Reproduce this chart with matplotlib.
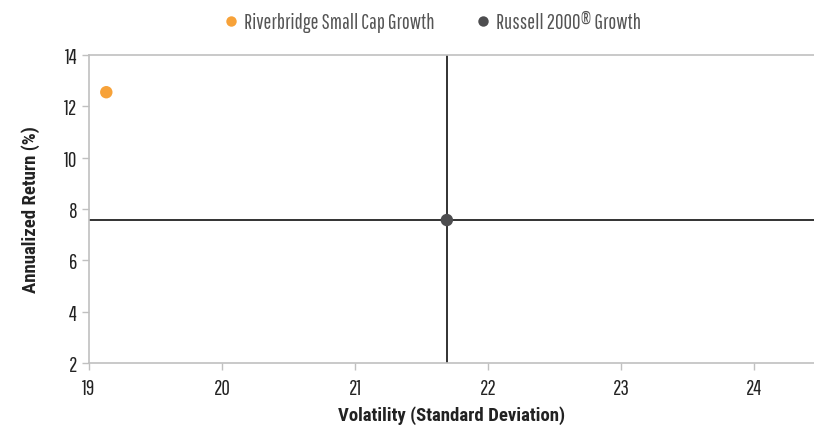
import matplotlib
matplotlib.use("Agg")
import matplotlib.pyplot as plt
from matplotlib.lines import Line2D

names = ["Riverbridge Small Cap Growth", "Russell 2000® Growth"]
volatility = [19.13, 21.69]
returns = [12.55, 7.57]
colors = ["#f7a239", "#4d4d4f"]
xticks = [19, 20, 21, 22, 23, 24]
yticks = [2, 4, 6, 8, 10, 12, 14]

plt.rcParams['font.family'] = ['Pathway Gothic One', 'Roboto Condensed', 'DejaVu Sans']
bold_family = ['Roboto Condensed', 'DejaVu Sans']

fig = plt.figure(figsize=(8.14, 4.27), dpi=100)
ax = fig.add_axes([89/814, 1-364/427, 1-89/814, (364-56)/427])

# crosshair through benchmark
bench_x, bench_y = volatility[1], returns[1]
ax.axvline(bench_x, color="#222222", lw=1.3, zorder=2)
ax.axhline(bench_y, color="#222222", lw=1.3, zorder=2)

for n, x, y, c in zip(names, volatility, returns, colors):
    ax.scatter([x], [y], s=80, color=c, zorder=3, label=n, edgecolors="none")

ax.set_xlim(19, 24.45)
ax.set_ylim(2, 14)
ax.set_xticks(xticks)
ax.set_yticks(yticks)
ax.tick_params(axis="both", colors="#c0c0c0", length=5, width=1, labelcolor="#222222", labelsize=15)
ax.tick_params(axis="x", pad=6)
for s in ["top", "left", "bottom"]:
    ax.spines[s].set_color("#c0c0c0")
    ax.spines[s].set_linewidth(1.2)
ax.spines["right"].set_visible(False)

ax.set_xlabel("Volatility (Standard Deviation)", fontsize=13.5, fontweight="bold", color="#222222",
              labelpad=5, family=bold_family)
ax.set_ylabel("Annualized Return (%)", fontsize=13.5, fontweight="bold", color="#222222",
              labelpad=17, family=bold_family)

handles = [Line2D([], [], marker="o", linestyle="none", markersize=7.5, color=c, markeredgewidth=0) for c in colors]
fig.legend(handles, names, loc="center", bbox_to_anchor=(433/814, 1-23/427), ncol=2, frameon=False,
           fontsize=15, labelcolor="#555555", handlelength=0.6, handletextpad=0.35, columnspacing=2.0)

fig.savefig("out.png", dpi=100)
